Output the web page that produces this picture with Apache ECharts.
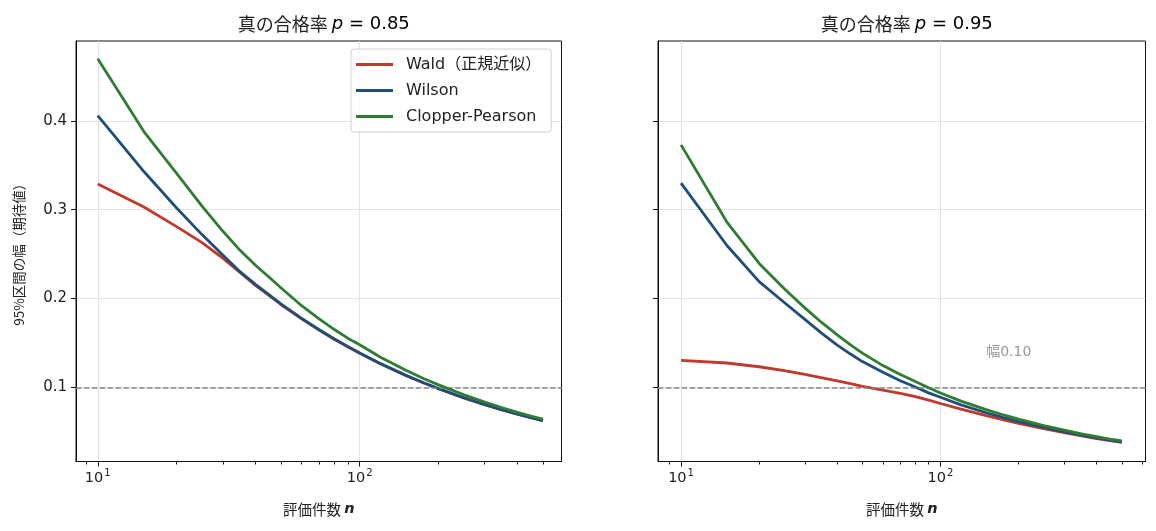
<!DOCTYPE html>
<html lang="ja">
<head>
<meta charset="UTF-8">
<title>区間幅</title>
<style>
  html, body { margin: 0; padding: 0; background: #fff; }
  #main { width: 1156px; height: 531px; }
</style>
</head>
<body>
<div id="main"></div>
<script src="https://cdn.jsdelivr.net/npm/echarts@6/dist/echarts.min.js"></script>
<script>
// 評価件数 n
var nValues = [10, 15, 20, 25, 30, 35, 40, 45, 50, 60, 70, 80, 90, 100, 120, 150, 175, 200, 250, 300, 350, 400, 450, 500];

// p = 0.85
var wald85   = [0.329, 0.303, 0.281, 0.263, 0.2455, 0.229, 0.2148, 0.2035, 0.1933, 0.1772, 0.1645, 0.1542, 0.1456, 0.1383, 0.1266, 0.1134, 0.1051, 0.0984, 0.0881, 0.0805, 0.0745, 0.0698, 0.0658, 0.0624];
var wilson85 = [0.406, 0.343, 0.302, 0.272, 0.249, 0.230, 0.2159, 0.2045, 0.1940, 0.1777, 0.1649, 0.1545, 0.1459, 0.1387, 0.1267, 0.1135, 0.1052, 0.0985, 0.0882, 0.0805, 0.0746, 0.0698, 0.0658, 0.0625];
var cp85     = [0.470, 0.388, 0.341, 0.304, 0.276, 0.254, 0.2375, 0.2242, 0.2122, 0.1919, 0.177, 0.1651, 0.1554, 0.148, 0.1339, 0.1193, 0.110, 0.1028, 0.0916, 0.0834, 0.077, 0.0719, 0.0677, 0.0643];

// p = 0.95
var wald95   = [0.1304, 0.1274, 0.1232, 0.1188, 0.1145, 0.1107, 0.1072, 0.1041, 0.1012, 0.0970, 0.0932, 0.0895, 0.0855, 0.0818, 0.0755, 0.0682, 0.0634, 0.0594, 0.0534, 0.0489, 0.0453, 0.0424, 0.0400, 0.0380];
var wilson95 = [0.330, 0.260, 0.219, 0.1955, 0.1765, 0.1605, 0.1475, 0.1375, 0.129, 0.117, 0.1075, 0.1003, 0.0938, 0.0888, 0.0803, 0.0714, 0.0659, 0.0615, 0.0548, 0.0499, 0.0461, 0.0431, 0.0406, 0.0385];
var cp95     = [0.373, 0.2864, 0.2395, 0.211, 0.1895, 0.1725, 0.159, 0.1478, 0.1385, 0.1245, 0.1145, 0.1065, 0.0995, 0.0937, 0.0845, 0.0749, 0.0689, 0.0643, 0.057, 0.0518, 0.0476, 0.0446, 0.0418, 0.0398];

var seriesNames = ['Wald（正規近似）', 'Wilson', 'Clopper-Pearson'];
var seriesColors = ['#c0392b', '#1f4e79', '#2e7d32'];
var majorTicks = [10, 100];
var minorTicks = [9, 20, 30, 40, 50, 60, 70, 80, 90, 200, 300, 400, 500, 600];
var yTicks = [0.1, 0.2, 0.3, 0.4];
var targetWidth = 0.10;
var panelTitles = ['0.85', '0.95'];

var CJK = '"Noto Sans CJK JP", sans-serif';
var MIX = '"DejaVu Sans", "Noto Sans CJK JP", sans-serif';
var MATH = '"DejaVu Sans", sans-serif';

function pairs(ys) {
    return nValues.map(function (n, i) { return [n, ys[i]]; });
}

var myChart = echarts.init(document.getElementById('main'), null, {renderer: 'canvas'});

var grids = [
    {left: 76, top: 41, width: 485.5, height: 420.5},
    {left: 658, top: 41, width: 487.5, height: 420.5}
];
var xRanges = [[8.26, 589], [8.15, 617]];

var xAxes = [], yAxes = [];
[0, 1].forEach(function (g) {
    // 主目盛り
    xAxes.push({
        type: 'log', logBase: 10, gridIndex: g, position: 'bottom',
        min: xRanges[g][0], max: xRanges[g][1],
        name: '{a|評価件数 }{n|n}',
        nameLocation: 'middle', nameGap: 40,
        nameTextStyle: {
            rich: {
                a: {fontFamily: CJK, fontSize: 14.5, color: '#222'},
                n: {fontFamily: MATH, fontSize: 14.5, fontStyle: 'italic', fontWeight: 'bold', color: '#222'}
            }
        },
        axisLine: {show: true, lineStyle: {color: '#111', width: 1}},
        axisTick: {show: true, length: 5, lineStyle: {color: '#111'}, customValues: majorTicks},
        axisLabel: {
            customValues: majorTicks, margin: 7,
            formatter: function (v) {
                var e = Math.round(Math.log(v) / Math.LN10);
                return '{m|10}{e|' + e + '}';
            },
            rich: {
                m: {fontFamily: MATH, fontSize: 14.5, color: '#222', lineHeight: 19},
                e: {fontFamily: MATH, fontSize: 10, color: '#222', lineHeight: 19, verticalAlign: 'top', padding: [0, 0, 7, 1]}
            }
        },
        splitLine: {show: true, lineStyle: {color: '#e3e3e3', width: 1}}
    });
    yAxes.push({
        type: 'value', gridIndex: g, min: 0.0165, max: 0.49,
        name: g === 0 ? '95%区間の幅（期待値）' : '',
        nameLocation: 'middle', nameGap: 50, nameRotate: 90,
        nameTextStyle: {fontFamily: CJK, fontSize: 13.5, color: '#222'},
        axisLine: {show: true, lineStyle: {color: '#111', width: 1}},
        axisTick: {show: true, length: 5, lineStyle: {color: '#111'}, customValues: yTicks},
        axisLabel: {show: g === 0, customValues: yTicks, margin: 9,
            fontFamily: MATH, fontSize: 15, color: '#222'},
        splitLine: {show: true, lineStyle: {color: '#e3e3e3', width: 1}}
    });
});
// 補助目盛り
[0, 1].forEach(function (g) {
    xAxes.push({
        type: 'log', logBase: 10, gridIndex: g, position: 'bottom',
        min: xRanges[g][0], max: xRanges[g][1],
        axisLine: {show: false},
        axisTick: {show: true, length: 3, lineStyle: {color: '#111'}, customValues: minorTicks},
        axisLabel: {show: false, customValues: minorTicks},
        splitLine: {show: false}
    });
});

var series = [];
var panelData = [[wald85, wilson85, cp85], [wald95, wilson95, cp95]];
[0, 1].forEach(function (g) {
    panelData[g].forEach(function (ys, k) {
        series.push({
            name: seriesNames[k], type: 'line',
            xAxisIndex: g, yAxisIndex: g,
            data: pairs(ys), symbol: 'none', smooth: false,
            lineStyle: {color: seriesColors[k], width: 2.8},
            itemStyle: {color: seriesColors[k]},
            z: 3 + k,
            markLine: k === 0 ? {
                silent: true, symbol: 'none', animation: false,
                label: {show: false},
                lineStyle: {color: '#7f8c8d', type: [5.5, 2.4], width: 1.5},
                data: [{yAxis: targetWidth}]
            } : undefined
        });
    });
});
// 注記
series.push({
    type: 'scatter', xAxisIndex: 1, yAxisIndex: 1,
    data: [[150, 0.135]], symbolSize: 0, silent: true,
    label: {
        show: true, position: [0, 0], align: 'left', verticalAlign: 'bottom',
        offset: [0, 3],
        formatter: '幅0.10', fontFamily: MIX, fontSize: 14, color: '#808080'
    }
});

var option = {
    animation: false,
    backgroundColor: '#fff',
    title: panelTitles.map(function (p, g) {
        return {
            text: '{a|真の合格率 }{i|p}{b| = ' + p + '}',
            left: grids[g].left + grids[g].width / 2, top: 10, textAlign: 'center',
            textStyle: {
                fontWeight: 'normal',
                rich: {
                    a: {fontFamily: CJK, fontSize: 18, fontWeight: 'normal', color: '#222'},
                    i: {fontFamily: MATH, fontSize: 18, fontStyle: 'italic', fontWeight: 'normal', color: '#000'},
                    b: {fontFamily: MATH, fontSize: 18, fontWeight: 'normal', color: '#000'}
                }
            }
        };
    }),
    legend: {
        data: seriesNames, orient: 'vertical',
        left: 351, top: 49,
        itemWidth: 37, itemHeight: 3, itemGap: 9,
        icon: 'rect',
        padding: [7, 10, 7, 5],
        backgroundColor: 'rgba(255,255,255,0.85)',
        borderColor: '#d0d0d0', borderWidth: 1, borderRadius: 3,
        textStyle: {fontFamily: MIX, fontSize: 16, color: '#222', lineHeight: 17, padding: [0, 0, 0, 8]}
    },
    grid: grids.map(function (g) {
        return {left: g.left, top: g.top, width: g.width, height: g.height,
            show: true, borderColor: '#111', borderWidth: 1, backgroundColor: 'transparent'};
    }),
    xAxis: xAxes,
    yAxis: yAxes,
    series: series
};
myChart.setOption(option);
</script>
</body>
</html>
